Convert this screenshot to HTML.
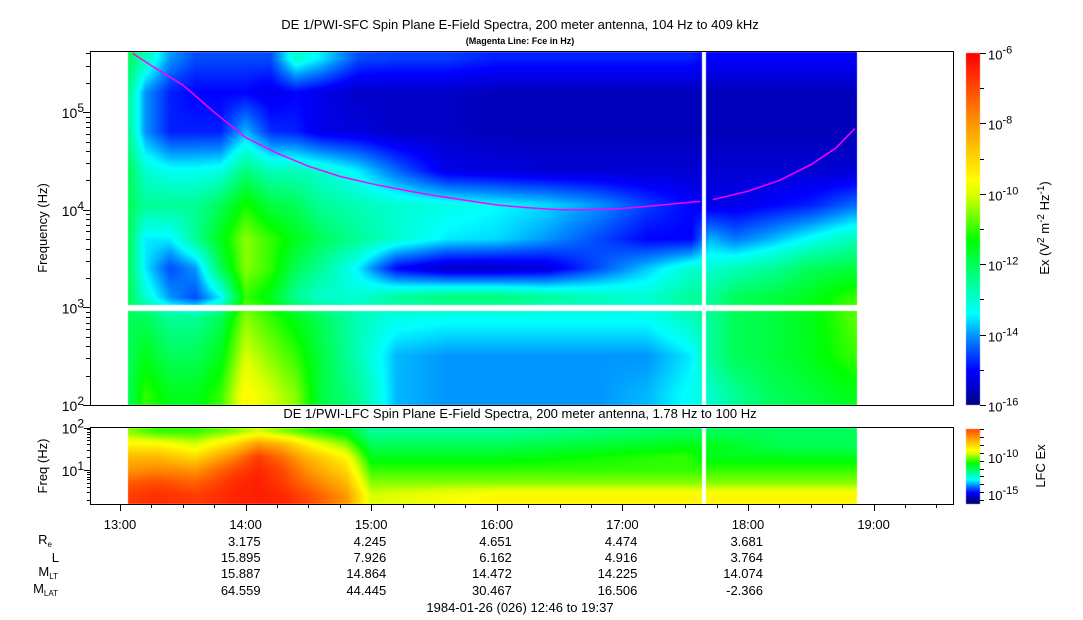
<!DOCTYPE html>
<html><head><meta charset="utf-8"><style>
html,body{margin:0;padding:0;background:#fff;}
#wrap{position:relative;width:1083px;height:620px;overflow:hidden;font-family:"Liberation Sans",sans-serif;}
canvas,svg{position:absolute;left:0;top:0;}
text{font-family:"Liberation Sans",sans-serif;fill:#000;}
</style></head><body>
<div id="wrap">
<canvas id="cv" width="1083" height="620"></canvas>
<svg id="sv" width="1083" height="620"></svg>
</div>
<script>
// ---- data ----
const topTimes=[13.07,13.2,13.4,13.6,13.8,14.0,14.2,14.4,14.6,14.9,15.2,15.6,16.0,16.4,16.8,17.2,17.55,17.7,17.9,18.2,18.5,18.83];
const topLogF=[5.55,5.2,4.8,4.4,4.05,3.7,3.4,3.1,2.9,2.5,2.1];
const topPower=[
[-12,-12.5,-12.5,-12,-12,-12,-12,-12,-12,-12,-12],
[-12.8,-14,-14,-13,-12.5,-13.5,-13.5,-13,-12,-11.5,-11],
[-14,-14.8,-14.8,-13.3,-12.5,-13.5,-14.5,-14,-12.5,-12,-11.5],
[-14.5,-15,-14.8,-13.3,-12.5,-12.5,-14,-14.5,-12.5,-12,-11.5],
[-14.5,-15,-14.8,-13.2,-12,-11.5,-12,-13.5,-12,-11.5,-11],
[-14.5,-15,-13.8,-12.3,-11.2,-10.5,-10.5,-11,-10.5,-10,-9.5],
[-14.5,-15.2,-14.7,-12.8,-11.8,-11,-11,-11.5,-11,-10.5,-10],
[-13,-15,-14.8,-12.8,-12,-11.5,-12,-12.5,-11.5,-11,-10.5],
[-13.5,-15.2,-15.2,-13,-12.5,-12,-12.5,-13,-12,-11.8,-11.8],
[-14.5,-15.5,-15.3,-13.5,-12.8,-12.5,-13.5,-13,-12.8,-12.8,-12.5],
[-14.6,-15.5,-15.5,-14.3,-13,-13,-15,-12.5,-13.2,-13.8,-13.8],
[-14.6,-15.5,-15.5,-15.2,-13.2,-13.5,-15.5,-12.2,-13.3,-14,-14],
[-14.8,-15.6,-15.6,-15.3,-13.4,-13.6,-15.5,-12.2,-13.3,-14,-14],
[-14.8,-15.6,-15.6,-15.4,-13.6,-14,-15.3,-12.5,-13.3,-14,-14],
[-14.8,-15.6,-15.6,-15.4,-14,-14.5,-14.5,-12.8,-13.3,-14,-14],
[-14.8,-15.6,-15.6,-15.4,-14.6,-15,-13.7,-13,-13.3,-14,-13.8],
[-14.8,-15.6,-15.6,-15.4,-15,-15,-13,-12.5,-12.8,-13.5,-13.3],
[-15,-15.6,-15.6,-15.4,-15.2,-13.8,-13,-12.5,-12.5,-12.5,-13],
[-15,-15.6,-15.6,-15.4,-15.2,-14.2,-12.8,-12,-12,-12,-12.5],
[-15,-15.6,-15.6,-15.4,-15,-13.8,-12.5,-11.8,-11.8,-11.8,-12],
[-15,-15.6,-15.6,-15.4,-14.8,-13.3,-12,-11.5,-11.5,-11.5,-11.8],
[-15,-15.6,-15.6,-15.4,-14.3,-12.8,-11.8,-11,-10.8,-11,-11.5]];
const lowTimes=[13.07,13.3,13.6,13.9,14.1,14.3,14.5,14.8,15.0,16.0,17.5,17.7,18.3,18.83];
const lowLogF=[1.9,1.6,1.3,1.0,0.7,0.4];
const lowPower=[
[-10.5,-9.5,-8.5,-8,-7.2,-6.8],[-11,-9.5,-8.5,-7.8,-7,-6.6],[-11,-10,-9,-8,-7.3,-6.8],
[-10.5,-9,-7.8,-7,-6.6,-6.5],[-10,-8,-6.8,-6.5,-6.4,-6.4],[-10.5,-8.5,-7.5,-7,-6.8,-6.5],
[-11,-9.5,-8.5,-8,-7.5,-7],[-11.5,-10.5,-9.5,-9,-8.5,-8],[-12.5,-12,-11.5,-11,-10.5,-10],
[-12.5,-12,-11.5,-11,-10.5,-9.5],[-12,-11.5,-11,-11,-10.5,-9.5],[-12,-11.5,-11.5,-11,-10.5,-9.5],
[-12,-12,-11.5,-11,-10.5,-9.5],[-12,-12,-11.5,-11,-10.5,-9.5]];
const fceTimes=[13.1,13.25,13.5,13.75,14,14.25,14.5,14.75,15,15.25,15.5,15.75,16,16.25,16.5,16.75,17,17.25,17.5,17.62,17.72,18,18.25,18.5,18.7,18.85];
const fceValues=[400000,300000,190000,100000,55000,38000,28000,22000,18500,16000,14000,12500,11200,10500,10000,10000,10300,11000,11800,12200,12700,15500,20000,29000,43000,68000];
const timeTicks=["13:00","14:00","15:00","16:00","17:00","18:00","19:00"];
const ephemHours=[14,15,16,17,18];
const ephemRe=["3.175","4.245","4.651","4.474","3.681"];
const ephemL=["15.895","7.926","6.162","4.916","3.764"];
const ephemMLT=["15.887","14.864","14.472","14.225","14.074"];
const ephemMLAT=["64.559","44.445","30.467","16.506","-2.366"];

// ---- geometry ----
const PX0=90,PX1=953;
const X=t=>120+(t-13)*125.6;
const TY0=51,TY1=405; const YT=lf=>405-(lf-2)*97.6;
const BY0=427,BY1=504; const YB=lf=>470-(lf-1)*42.5;
const DX0=128,DX1=857,GAP0=702,GAP1=706;
const cStops=[[-16,[0,0,128]],[-15.5,[0,0,200]],[-15,[0,0,255]],[-14,[0,150,255]],[-13.4,[0,255,255]],[-12.5,[0,255,150]],[-11.3,[0,255,0]],[-10,[220,255,0]],[-9.6,[255,255,0]],[-8,[255,150,0]],[-6,[255,0,0]]];
function cmap(v){if(v<=cStops[0][0])return cStops[0][1];for(let i=1;i<cStops.length;i++){if(v<=cStops[i][0]){const a=cStops[i-1],b=cStops[i],f=(v-a[0])/(b[0]-a[0]);return a[1].map((c,k)=>Math.round(c+(b[1][k]-c)*f));}}return cStops[cStops.length-1][1];}
function interp1(arr,x){if(x<=arr[0])return [0,0,0];for(let i=1;i<arr.length;i++){if(x<=arr[i])return [i-1,i,(x-arr[i-1])/(arr[i]-arr[i-1])];}const n=arr.length-1;return [n,n,0];}
function interpDesc(arr,x){if(x>=arr[0])return [0,0,0];for(let i=1;i<arr.length;i++){if(x>=arr[i])return [i-1,i,(arr[i-1]-x)/(arr[i-1]-arr[i])];}const n=arr.length-1;return [n,n,0];}
function sample(times,lfs,P,t,lf){const [a,b,f]=interp1(times,t);const [c,d,g]=interpDesc(lfs,lf);
 const v0=P[a][c]*(1-g)+P[a][d]*g, v1=P[b][c]*(1-g)+P[b][d]*g; return v0*(1-f)+v1*f;}
const cv=document.getElementById('cv'),ctx=cv.getContext('2d');
const img=ctx.createImageData(1083,620);
function put(x,y,c){const i=(y*1083+x)*4;img.data[i]=c[0];img.data[i+1]=c[1];img.data[i+2]=c[2];img.data[i+3]=255;}
for(let x=DX0;x<DX1;x++){ if(x>=GAP0&&x<GAP1)continue; const t=13+(x+0.5-120)/125.6;
 for(let y=TY0+1;y<TY1;y++){ if(y>=305&&y<311)continue; const lf=2+(405-y-0.5)/97.6; put(x,y,cmap(sample(topTimes,topLogF,topPower,t,lf)));}
 for(let y=BY0+1;y<BY1;y++){ const lf=1+(470-y-0.5)/42.5; put(x,y,cmap(sample(lowTimes,lowLogF,lowPower,t,lf)));}
}
for(let y=53;y<405;y++){const v=-6-(y-53)/352*10;const c=cmap(v);for(let x=966;x<980;x++)put(x,y,c);}
for(let y=429;y<504;y++){const v=-7-(y-429)/75*9.5;const c=cmap(v);for(let x=966;x<980;x++)put(x,y,c);}
ctx.putImageData(img,0,0);

// ---- svg ----
const NS='http://www.w3.org/2000/svg',sv=document.getElementById('sv');
function el(tag,attrs,txt){const e=document.createElementNS(NS,tag);for(const k in attrs)e.setAttribute(k,attrs[k]);if(txt!==undefined)e.textContent=txt;sv.appendChild(e);return e;}
function sup(x,y,base,exp,anchor,size,name){const t=el('text',{x:x,y:y,'font-size':size||13,'text-anchor':anchor||'end'});
 
 
 const a=document.createElementNS(NS,'tspan');a.textContent=base;t.appendChild(a);
 const b=document.createElementNS(NS,'tspan');b.setAttribute('dy','-6');b.setAttribute('font-size',(size||13)-2);b.textContent=exp;t.appendChild(b);return t;}
let seg1=[],seg2=[];fceTimes.forEach((t,i)=>{const p=X(t).toFixed(1)+','+YT(Math.log10(fceValues[i])).toFixed(1);(t<17.65?seg1:seg2).push(p);});
const fl1=el('polyline',{points:seg1.join(' '),fill:'none',stroke:'#ff00ff','stroke-width':1.5});


const fl2=el('polyline',{points:seg2.join(' '),fill:'none',stroke:'#ff00ff','stroke-width':1.5});


const f1=el('rect',{x:PX0+0.5,y:TY0+0.5,width:PX1-PX0,height:TY1-TY0,fill:'none',stroke:'#000'});


const f2=el('rect',{x:PX0+0.5,y:BY0+0.5,width:PX1-PX0,height:BY1-BY0,fill:'none',stroke:'#000'});


for(let dec=2;dec<=5;dec++){for(let m=1;m<10;m++){const lf=dec+Math.log10(m);if(lf>5.612)break;const y=Math.round(YT(lf))+0.5;
 el('line',{x1:PX0-(m==1?7:4),x2:PX0,y1:y,y2:y,stroke:'#000'});}
 sup(84,YT(dec)+6,'10',String(dec),'end',14,'y-tick-label');}
for(let dec=0;dec<=2;dec++){for(let m=1;m<10;m++){const lf=dec+Math.log10(m);if(lf<0.25||lf>2.001)continue;const y=Math.round(YB(lf))+0.5;
 el('line',{x1:PX0-(m==1?6:3),x2:PX0,y1:y,y2:y,stroke:'#000'});}
 if(dec>=1)sup(84,YB(dec)+6,'10',String(dec),'end',14,'low-y-tick-label');}
for(let m=0;m<=27;m++){const t=12.75+m*0.25;const x=Math.round(X(t))+0.5;if(x<PX0||x>PX1)continue;const maj=(m%4==1);
 el('line',{x1:x,x2:x,y1:BY1,y2:BY1+(maj?7:4),stroke:'#000'});}
timeTicks.forEach((s,i)=>{const t=el('text',{x:X(13+i),y:529,'font-size':13,'text-anchor':'middle'},s);
 
 });
const rows=[[ephemRe,546],[ephemL,562],[ephemMLT,578],[ephemMLAT,595]];
rows.forEach(r=>{ephemHours.forEach((h,i)=>{const t=el('text',{x:X(h)+15,y:r[1],'font-size':13,'text-anchor':'end'},r[0][i]);
 
 });});
function lab(x,y,main,sub,name){const t=el('text',{x:x,y:y,'font-size':13,'text-anchor':'end'});
 
 
 const a=document.createElementNS(NS,'tspan');a.textContent=main;t.appendChild(a);
 if(sub){const b=document.createElementNS(NS,'tspan');b.setAttribute('dy','3');b.setAttribute('font-size','8');b.textContent=sub;t.appendChild(b);}}
lab(52,544,'R','e','re-label');lab(59,562,'L','','l-label');lab(58,576,'M','LT','mlt-label');lab(58,593,'M','LAT','mlat-label');
let tt;
tt=el('text',{x:520,y:612,'font-size':13,'text-anchor':'middle'},'1984-01-26 (026) 12:46 to 19:37');

tt=el('text',{x:520,y:29,'font-size':13,'text-anchor':'middle'},'DE 1/PWI-SFC  Spin Plane E-Field Spectra, 200 meter antenna, 104 Hz to 409 kHz');

tt=el('text',{x:520,y:44,'font-size':9,'font-weight':'bold','text-anchor':'middle'},'(Magenta Line: Fce in Hz)');

tt=el('text',{x:520,y:418,'font-size':13,'text-anchor':'middle'},'DE 1/PWI-LFC  Spin Plane E-Field Spectra, 200 meter antenna, 1.78 Hz to 100 Hz');

tt=el('text',{x:0,y:0,'font-size':13,'text-anchor':'middle',transform:'translate(47,228) rotate(-90)'},'Frequency (Hz)');

tt=el('text',{x:0,y:0,'font-size':13,'text-anchor':'middle',transform:'translate(47,466) rotate(-90)'},'Freq (Hz)');

for(let i=0;i<=10;i++){const y=Math.round(53+i*35.2)+0.5;el('line',{x1:980,x2:i%2==0?986:984,y1:y,y2:y,stroke:'#000'});
 if(i%2==0)sup(988,y+6,'10',String(-6-i),'start',13,'colorbar-tick-label');}
for(let i=0;i<=9;i++){const y=Math.round(429+i*7.9)+0.5;el('line',{x1:980,x2:984,y1:y,y2:y,stroke:'#000'});}
sup(988,463,'10','-10','start',13,'low-colorbar-tick-label');sup(988,500,'10','-15','start',13,'low-colorbar-tick-label');
const cb=el('text',{x:0,y:0,'font-size':13,'text-anchor':'middle',transform:'translate(1049,228) rotate(-90)'});

cb.innerHTML='Ex (V<tspan dy="-5" font-size="10">2</tspan><tspan dy="5"> m</tspan><tspan dy="-5" font-size="10">-2</tspan><tspan dy="5"> Hz</tspan><tspan dy="-5" font-size="10">-1</tspan><tspan dy="5">)</tspan>';
tt=el('text',{x:0,y:0,'font-size':13,'text-anchor':'middle',transform:'translate(1045,466) rotate(-90)'},'LFC Ex');

</script>
</body></html>
